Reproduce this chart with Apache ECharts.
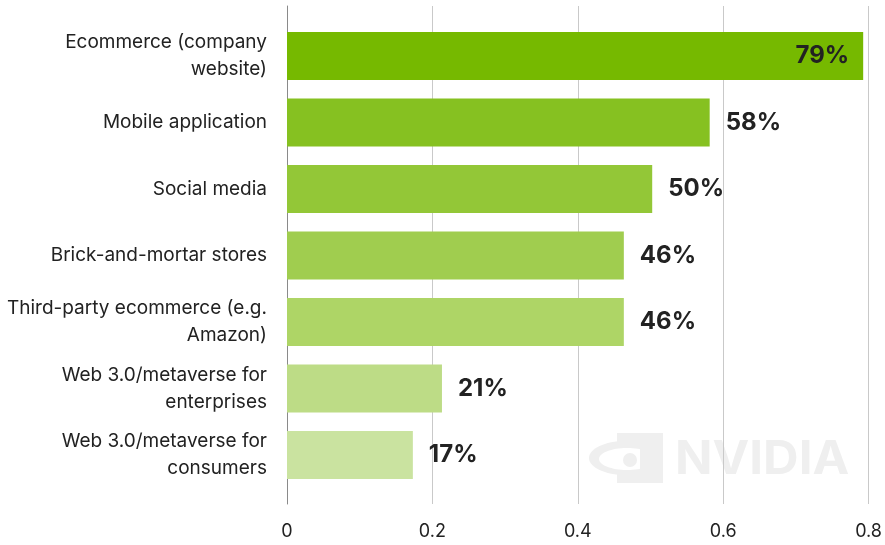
<!DOCTYPE html>
<html>
<head>
<meta charset="utf-8">
<script src="https://cdn.jsdelivr.net/npm/echarts@6/dist/echarts.min.js"></script>
<style>
  html, body { margin: 0; padding: 0; background: #fff; }
  #chart { width: 885px; height: 545px; }
</style>
</head>
<body>
<div id="chart"></div>
<script>
// Channels, top to bottom
const categories = [
  'Ecommerce (company\nwebsite)',
  'Mobile application',
  'Social media',
  'Brick-and-mortar stores',
  'Third-party ecommerce (e.g.\nAmazon)',
  'Web 3.0/metaverse for\nenterprises',
  'Web 3.0/metaverse for\nconsumers'
];
// Share of respondents
const shares = [0.792, 0.581, 0.502, 0.463, 0.463, 0.213, 0.173];
// Bar fills, darkest to lightest
const barColors = ['#76b900', '#86c121', '#93c737', '#a0cd4f', '#aed566', '#bddc86', '#cae3a0'];
// Value axis ticks
const axisMin = 0, axisMax = 0.8, axisStep = 0.2;

const FONT = 'Inter, "Noto Sans", sans-serif';

const chart = echarts.init(document.getElementById('chart'), null, { renderer: 'canvas' });

const barData = shares.map((v, i) => ({
  value: v,
  itemStyle: { color: barColors[i] },
  label: i === 0
    ? { position: 'insideRight', distance: 14 }
    : { position: 'right', distance: 16 }
}));

const option = {
  backgroundColor: '#ffffff',
  animation: false,
  textStyle: { fontFamily: FONT },
  graphic: [
    {
      type: 'group', silent: true, z: -10,
      children: [
        // watermark logo mark
        { type: 'rect', shape: { x: 617, y: 433, width: 46, height: 50 }, style: { fill: '#efefef' } },
        { type: 'ellipse', shape: { cx: 625, cy: 458, rx: 36, ry: 17 }, style: { fill: '#efefef' } },
        { type: 'ellipse', shape: { cx: 627, cy: 459, rx: 28, ry: 11 }, style: { fill: '#ffffff' } },
        { type: 'circle', shape: { cx: 630, cy: 460, r: 7 }, style: { fill: '#efefef' } },
        { type: 'rect', shape: { x: 640, y: 448, width: 23, height: 26 }, style: { fill: '#efefef' } },
        {
          type: 'text', x: 675, y: 437, scaleX: 1.07,
          style: { text: 'NVIDIA', fill: '#efefef', font: 'bold 46px ' + FONT }
        }
      ]
    }
  ],
  grid: [
    { left: 287, right: 16, top: 6, bottom: 41 },
    { left: 287, right: 16, top: 22.75, bottom: 56.75 }
  ],
  xAxis: [
    {
      gridIndex: 0, type: 'value', min: axisMin, max: axisMax, interval: axisStep,
      axisLine: { show: false }, axisTick: { show: false },
      splitLine: { show: true, lineStyle: { color: '#c9c9c9', width: 1 } },
      axisLabel: { color: '#222', fontSize: 18, margin: 19, fontFamily: FONT }
    },
    {
      gridIndex: 1, type: 'value', min: axisMin, max: axisMax, interval: axisStep,
      show: false
    }
  ],
  yAxis: [
    {
      gridIndex: 0, type: 'value', min: 0, max: 1,
      axisLine: { show: true, lineStyle: { color: '#8a8a8a', width: 1 } },
      axisTick: { show: false }, axisLabel: { show: false }, splitLine: { show: false }
    },
    {
      gridIndex: 1, type: 'category', data: categories, inverse: true,
      axisLine: { show: false }, axisTick: { show: false }, splitLine: { show: false },
      axisLabel: {
        color: '#222', fontSize: 19, lineHeight: 27, margin: 20, fontFamily: FONT,
        padding: [6, 0, 0, 0]
      }
    }
  ],
  series: [
    {
      type: 'bar', xAxisIndex: 1, yAxisIndex: 1,
      data: barData, barWidth: 48, z: 3,
      label: {
        show: true, color: '#222', fontSize: 24, fontWeight: 'bold', fontFamily: FONT,
        formatter: p => Math.round(p.value * 100) + '%'
      }
    }
  ]
};

chart.setOption(option);
</script>
</body>
</html>
